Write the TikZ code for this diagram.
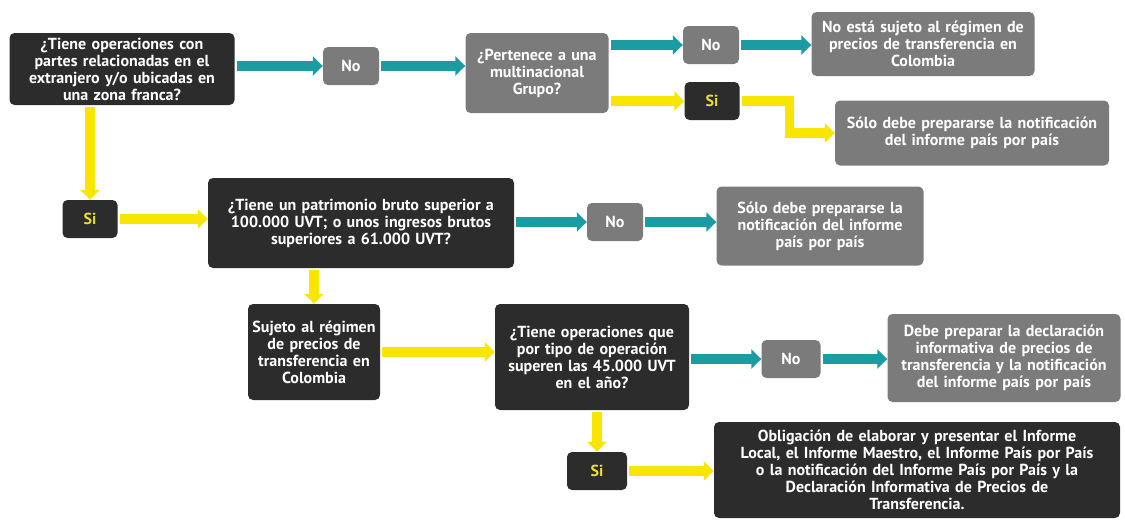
\documentclass[tikz,border=0pt]{standalone}
\usepackage{fontspec}
\setmainfont{PT Sans}
\usetikzlibrary{calc,positioning,arrows.meta}
\definecolor{boxdark}{HTML}{2C2C2C}
\definecolor{boxgrey}{HTML}{7B7B7B}
\definecolor{flowteal}{HTML}{1B9CA2}
\definecolor{flowyellow}{HTML}{F8E500}
\definecolor{sitext}{HTML}{E9DD3C}
\tikzset{
  txt/.style={font=\fontsize{16pt}{17pt}\selectfont\bfseries, align=center, inner sep=2pt, rounded corners=5pt},
  darkbox/.style={txt, fill=boxdark, text=white},
  greybox/.style={txt, fill=boxgrey, text=white},
  sibox/.style={darkbox, text=sitext, minimum width=55pt, minimum height=38pt},
  nobox/.style={greybox, minimum width=56pt, minimum height=38pt},
  tealarrow/.style={draw=flowteal, line width=9.5pt, -{Triangle[length=10pt,width=19pt]}, shorten <=2pt},
  yellowarrow/.style={draw=flowyellow, line width=9.5pt, -{Triangle[length=10pt,width=19pt]}, shorten <=2pt}
}
\begin{document}
\begin{tikzpicture}[x=1pt,y=-1pt]
  \useasboundingbox (0,0) rectangle (1125,522);
  % first question
  \node[darkbox, minimum width=225pt, minimum height=72pt, text width=221pt] (Q1) at (122,69)
    {¿Tiene operaciones con\\partes relacionadas en el\\extranjero y/o ubicadas en\\una zona franca?};
  \node[nobox] (No1) at (351,66) {No};
  \node[greybox, minimum width=143pt, minimum height=80pt, text width=139pt] (Q2) at (537,73)
    {¿Pertenece a una\\multinacional\\Grupo?};
  \node[nobox] (No2) at (711,45) {No};
  \node[sibox] (Si2) at (712,101) {Si};
  \node[greybox, minimum width=223pt, minimum height=64pt, text width=219pt] (R1) at (923,44)
    {No está sujeto al régimen de\\precios de transferencia en\\Colombia};
  \node[greybox, minimum width=274pt, minimum height=65pt, text width=270pt] (R2) at (972,133)
    {Sólo debe prepararse la notificación\\del informe país por país};
  % second question
  \node[sibox] (Si1) at (90,219) {Si};
  \node[darkbox, minimum width=306pt, minimum height=90pt, text width=302pt] (Q3) at (361,223)
    {¿Tiene un patrimonio bruto superior a\\100.000 UVT; o unos ingresos brutos\\superiores a 61.000 UVT?};
  \node[nobox] (No3) at (615,222) {No};
  \node[greybox, minimum width=207pt, minimum height=79pt, text width=203pt] (R3) at (820,226)
    {Sólo debe prepararse la\\notificación del informe\\país por país};
  % third question
  \node[darkbox, minimum width=132pt, minimum height=96pt, text width=128pt] (Suj) at (314,352)
    {Sujeto al régimen\\de precios de\\transferencia en\\Colombia};
  \node[darkbox, minimum width=194pt, minimum height=106pt, text width=190pt] (Q4) at (592,357)
    {¿Tiene operaciones que\\por tipo de operación\\superen las 45.000 UVT\\en el año?};
  \node[nobox, minimum width=59pt] (No4) at (791,359) {No};
  \node[greybox, minimum width=233pt, minimum height=88pt, text width=229pt] (R4) at (1004,358)
    {Debe preparar la declaración\\informativa de precios de\\transferencia y la notificación\\del informe país por país};
  \node[sibox, minimum width=60pt] (Si3) at (597,471) {Si};
  \node[darkbox, minimum width=406pt, minimum height=96pt, text width=402pt] (R5) at (917,470)
    {Obligación de elaborar y presentar el Informe\\Local, el Informe Maestro, el Informe País por País\\o la notificación del Informe País por País y la\\Declaración Informativa de Precios de\\Transferencia.};
  % connectors
  \draw[tealarrow] (Q1.east |- No1.west) -- (No1.west);
  \draw[tealarrow] (No1.east) -- (No1.east -| Q2.west);
  \draw[tealarrow] (Q2.east |- No2.west) -- (No2.west);
  \draw[tealarrow] (No2.east) -- (No2.east -| R1.west);
  \draw[yellowarrow] (Q2.east |- Si2.west) -- (Si2.west);
  \draw[yellowarrow] (Si2.east) -- ++(50,0) |- (R2.west);
  \draw[yellowarrow] (Si1.north |- Q1.south) -- (Si1.north);
  \draw[yellowarrow] (Si1.east) -- (Si1.east -| Q3.west);
  \draw[tealarrow] (Q3.east |- No3.west) -- (No3.west);
  \draw[tealarrow] (No3.east) -- (No3.east -| R3.west);
  \draw[yellowarrow] (Suj.north |- Q3.south) -- (Suj.north);
  \draw[yellowarrow] (Suj.east) -- (Suj.east -| Q4.west);
  \draw[tealarrow] (Q4.east |- No4.west) -- (No4.west);
  \draw[tealarrow] (No4.east) -- (No4.east -| R4.west);
  \draw[yellowarrow] (Q4.south -| Si3.north) -- (Si3.north);
  \draw[yellowarrow] (Si3.east) -- (Si3.east -| R5.west);
\end{tikzpicture}
\end{document}
